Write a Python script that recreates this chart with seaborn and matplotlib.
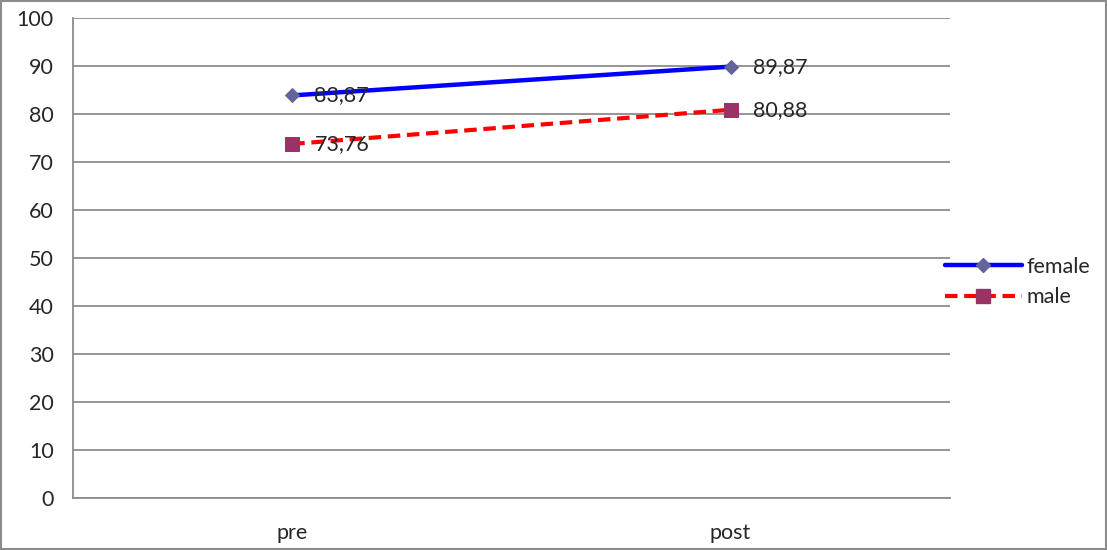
import pandas as pd
import matplotlib
matplotlib.use("Agg")
import matplotlib.pyplot as plt
import seaborn as sns
from matplotlib.lines import Line2D

# Datos
fases = ["pre", "post"]
female = [83.87, 89.87]
male = [73.76, 80.88]
etiquetas_female = ["83,87", "89,87"]
etiquetas_male = ["73,76", "80,88"]

sns.set_style("white")
plt.rcParams["font.family"] = ["Lato", "DejaVu Sans"]

df = pd.DataFrame({
    "fase": fases * 2,
    "valor": female + male,
    "grupo": ["female"] * 2 + ["male"] * 2,
})

fig = plt.figure(figsize=(11.07, 5.5), dpi=100)
ax = fig.add_axes([0.066, 0.0945, 0.792, 0.8728])

gris = "#8c8c8c"
fs = 15.5

sns.lineplot(data=df[df.grupo == "female"], x="fase", y="valor", ax=ax,
             color="#0000ff", linewidth=3.2, marker="D", markersize=7,
             markerfacecolor="#64649b", markeredgecolor="#64649b",
             sort=False, legend=False, zorder=3)
sns.lineplot(data=df[df.grupo == "male"], x="fase", y="valor", ax=ax,
             color="#ff0000", linewidth=3, linestyle=(0, (3, 1.6)), marker="s",
             markersize=10, markerfacecolor="#993366", markeredgecolor="#993366",
             sort=False, legend=False, zorder=3)

# Etiquetas de datos
for i, (v, t) in enumerate(zip(female, etiquetas_female)):
    ax.annotate(t, (i, v), xytext=(16, 0), textcoords="offset points",
                va="center", ha="left", fontsize=fs, zorder=4)
for i, (v, t) in enumerate(zip(male, etiquetas_male)):
    ax.annotate(t, (i, v), xytext=(16, 0), textcoords="offset points",
                va="center", ha="left", fontsize=fs, zorder=4)

ax.set_xlim(-0.5, 1.5)
ax.set_ylim(0, 100)
ax.set_yticks(range(0, 101, 10))
ax.set_xticks([0, 1])
ax.set_xticklabels(fases)
ax.set_xticks([-0.5, 0.5, 1.5], minor=True)
ax.tick_params(axis="x", which="major", length=0, pad=18, labelsize=fs)
ax.tick_params(axis="x", which="minor", length=6, color=gris, width=1.2, direction="out")
ax.tick_params(axis="y", length=6, color=gris, width=1.2, direction="out", pad=8, labelsize=fs)
ax.set_xlabel("")
ax.set_ylabel("")
ax.grid(axis="y", color=gris, linewidth=1.3)
ax.set_axisbelow(True)
for s in ["top", "right"]:
    ax.spines[s].set_visible(False)
for s in ["left", "bottom"]:
    ax.spines[s].set_color(gris)
    ax.spines[s].set_linewidth(1.3)

handles = [
    Line2D([], [], color="#0000ff", linewidth=3.2, marker="D", markersize=7,
           markerfacecolor="#64649b", markeredgecolor="#64649b"),
    Line2D([], [], color="#ff0000", linewidth=3, linestyle=(0, (3, 1.6)), marker="s",
           markersize=10, markerfacecolor="#993366", markeredgecolor="#993366"),
]
ax.legend(handles, ["female", "male"], loc="center left", bbox_to_anchor=(0.972, 0.45),
          frameon=False, fontsize=fs, handlelength=3.6, handletextpad=0.2,
          labelspacing=0.5)

# Borde exterior
fig.patches.append(plt.Rectangle((0.001, 0.002), 0.998, 0.996, transform=fig.transFigure,
                                 fill=False, edgecolor=gris, linewidth=1.5))

fig.savefig("out.png", dpi=100)
